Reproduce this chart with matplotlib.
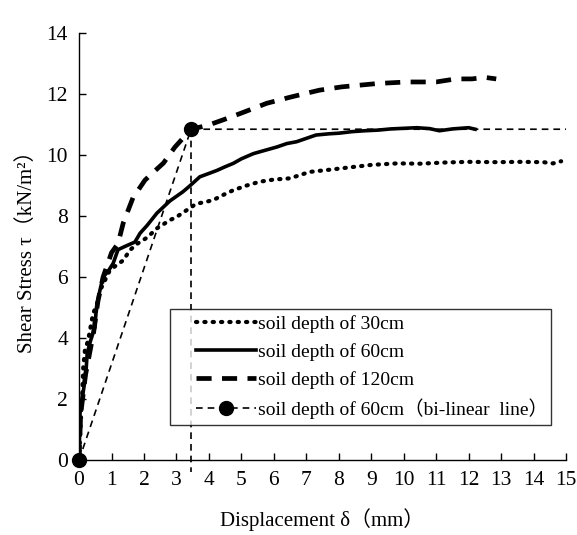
import matplotlib
matplotlib.use("Agg")
import matplotlib.pyplot as plt
from matplotlib.legend_handler import HandlerLine2D

# soil depth 30 cm
x30 = [0, 0.05, 0.1, 0.13, 0.18, 0.28, 0.43, 0.55, 0.65, 0.8, 0.95, 1.1, 1.36, 1.57, 1.8, 2.1, 2.4, 2.8,
       3.0, 3.6, 4.12, 4.45, 4.75, 5.15, 5.57, 6.0, 6.5, 7.1, 7.7, 8.34, 9.0, 9.8, 10.5, 11.3, 12.0, 12.86, 13.6,
       14.3, 14.6, 14.85]
y30 = [0, 1.2, 2.2, 3.05, 3.6, 3.93, 4.8, 5.1, 5.57, 5.9, 6.23, 6.35, 6.55, 6.89, 7.1, 7.3, 7.6, 7.87,
       7.97, 8.4, 8.52, 8.7, 8.85, 9.0, 9.13, 9.2, 9.24, 9.45, 9.52, 9.6, 9.68, 9.73, 9.72, 9.76, 9.78, 9.77, 9.78,
       9.77, 9.73, 9.8]

# soil depth 60 cm
x60 = [0, 0.03, 0.08, 0.18, 0.22, 0.25, 0.35, 0.49, 0.52, 0.58, 0.65, 0.74, 0.9, 1.05, 1.2, 1.4, 1.72, 1.88,
       2.1, 2.4, 2.8, 3.2, 3.42, 3.72, 4.0, 4.25, 4.5, 4.75, 5.0, 5.37, 5.7, 6.1,
       6.4, 6.7, 7.0, 7.3, 7.7, 8.0, 8.4, 8.8, 9.2, 9.6, 10.0, 10.4, 10.8, 11.1, 11.5, 12.0, 12.2]
y60 = [0, 1.54, 1.9, 2.6, 3.0, 3.5, 3.9, 4.36, 4.8, 5.25, 5.6, 6.0, 6.2, 6.45, 6.9, 7.0, 7.15, 7.44,
       7.7, 8.1, 8.5, 8.8, 9.0, 9.29, 9.4, 9.5, 9.62, 9.73, 9.88, 10.05, 10.15, 10.27,
       10.38, 10.44, 10.55, 10.66, 10.7, 10.72, 10.77, 10.8, 10.82, 10.86, 10.88, 10.9, 10.87, 10.8, 10.86, 10.9, 10.85]

# soil depth 120 cm
x120 = [0, 0.05, 0.2, 0.45, 0.58, 0.74, 1.0, 1.2, 1.36, 1.66, 2.03, 2.3, 2.6, 2.95, 3.45, 3.97, 4.55, 5.05,
        5.78, 6.5, 7.4, 8.1, 9.2, 10.1, 11.0, 11.6, 12.1, 12.5, 12.85]
y120 = [0, 1.5, 2.8, 4.2, 5.2, 6.0, 6.8, 7.1, 7.77, 8.6, 9.18, 9.45, 9.74, 10.26, 10.85, 10.98, 11.2, 11.4,
        11.7, 11.9, 12.13, 12.24, 12.35, 12.4, 12.4, 12.5, 12.5, 12.55, 12.5]

# bi-linear line for 60 cm
xb = [0, 3.45, 15]
yb = [0, 10.85, 10.85]
x_yield = 3.45
y_yield = 10.85

labels = ["soil depth of 30cm", "soil depth of 60cm", "soil depth of 120cm",
          "soil depth of 60cm（bi-linear  line）"]
xticks = list(range(0, 16))
yticks = list(range(0, 15, 2))

serif = ["Liberation Serif", "Noto Sans CJK JP", "DejaVu Serif"]
plt.rcParams['font.family'] = serif

fig = plt.figure(figsize=(5.77, 5.35), dpi=100)
ax = fig.add_axes([0.137, 0.140, 0.844, 0.798])

l1, = ax.plot(x30, y30, color='black', lw=3.0, linestyle=(0, (0.3, 1.7)), dash_capstyle='round', label=labels[0])
l3, = ax.plot(x120, y120, color='black', lw=3.4, linestyle=(0, (3.2, 2.2)), label=labels[2])
l2, = ax.plot(x60, y60, color='black', lw=2.6, linestyle='-', label=labels[1])
l4, = ax.plot(xb, yb, color='black', lw=1.2, linestyle=(0, (4, 3)), marker='o', markersize=10,
              markevery=[0, 1], label=labels[3], clip_on=False, zorder=5)
ax.plot([x_yield, x_yield], [y_yield, -0.4], color='black', lw=1.2, linestyle=(0, (4, 3)), clip_on=False)

ax.set_xlim(0, 15)
ax.set_ylim(0, 14)
ax.set_xticks(xticks)
ax.set_yticks(yticks)
ax.tick_params(direction='in', length=5, width=1, labelsize=15.5, pad=8)
for s in ['top', 'right']:
    ax.spines[s].set_visible(False)
for s in ['left', 'bottom']:
    ax.spines[s].set_linewidth(1.0)

ax.set_xlabel("Displacement δ（mm）", fontsize=15, labelpad=13)
ax.set_ylabel("Shear Stress τ（kN/m²）", fontsize=15, labelpad=7)

hmap = {h: HandlerLine2D(xpad=1.05) for h in (l1, l2, l3, l4)}
leg = ax.legend(handles=[l1, l2, l3, l4], handler_map=hmap, loc='lower left',
                bbox_to_anchor=(0.187, 0.082, 0.782, 0.285),
                mode='expand', fontsize=14.0, frameon=True, fancybox=False, edgecolor='black',
                handlelength=4.1, handletextpad=0.12, borderpad=0.3, labelspacing=0.52, borderaxespad=0)
leg.get_frame().set_linewidth(1.0)

fig.savefig("out.png", dpi=100)
